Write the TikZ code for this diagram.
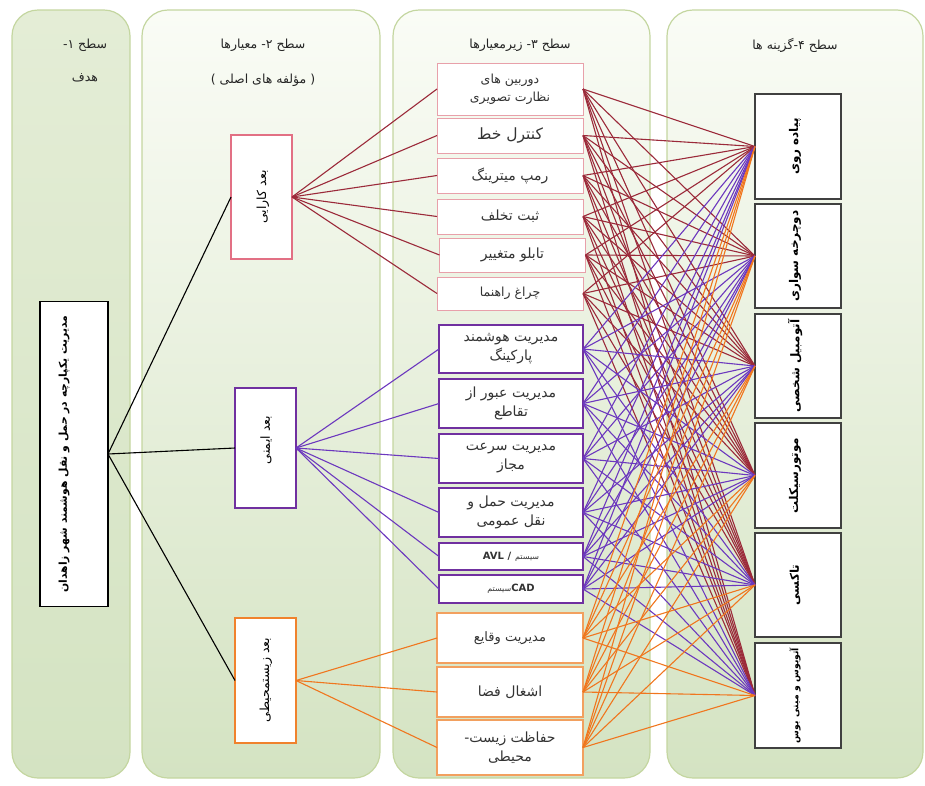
\documentclass[tikz,border=0pt]{standalone}
\usepackage{fontspec}
\setmainfont{DejaVu Sans}
\newfontfamily\fa[Script=Arabic]{DejaVu Sans}
\newfontfamily\plain{DejaVu Sans}
\TeXXeTstate=1
\newcommand\rl[1]{\beginR #1\endR}
\definecolor{panelborder}{RGB}{196,214,160}
\definecolor{paneltop}{RGB}{250,252,246}
\definecolor{panelbot}{RGB}{212,227,194}
\definecolor{panelonetop}{RGB}{228,237,214}
\definecolor{redline}{RGB}{155,42,58}
\definecolor{redbox}{RGB}{226,112,132}
\definecolor{redboxlight}{RGB}{232,160,170}
\definecolor{purpline}{RGB}{108,56,190}
\definecolor{purpbox}{RGB}{112,48,160}
\definecolor{orline}{RGB}{240,118,30}
\definecolor{orbox}{RGB}{240,130,45}
\definecolor{orboxlight}{RGB}{242,160,95}
\begin{document}
\begin{tikzpicture}[x=1pt,y=-1pt,
  panel/.style={draw=panelborder,line width=1.2pt,rounded corners=26pt,top color=paneltop,bottom color=panelbot},
  box/.style={draw,fill=white,inner sep=1pt,outer sep=0pt,align=center,font=\fa\fontsize{12.5}{18}\selectfont,text=black!80},
  big/.style={font=\fa\fontsize{14}{19}\selectfont},
  vtext/.style={rotate=90,font=\fa\bfseries\fontsize{12}{14}\selectfont},
  v2text/.style={rotate=90,font=\fa\fontsize{12.5}{14}\selectfont},
  hdr/.style={font=\fa\fontsize{12.5}{14}\selectfont,text=black!85},
  bx3r/.style={box,draw=redboxlight,line width=1pt,minimum width=146pt},
  bx3p/.style={box,draw=purpbox,line width=1.2pt,minimum width=144pt},
  bx3o/.style={box,draw=orboxlight,line width=1.2pt,minimum width=146pt},
  bx4/.style={box,draw=black!75,line width=1.6pt,minimum width=86pt,minimum height=105pt},
  goalline/.style={black,line width=1.1pt},
  rl3/.style={redline,line width=1.1pt},
  pl3/.style={purpline,line width=1.1pt},
  ol3/.style={orline,line width=1.1pt}
]
\useasboundingbox (0,0) rectangle (925,785);
% panels
\path[panel,top color=panelonetop] (12,10) rectangle (130,778);
\path[panel] (142,10) rectangle (380,778);
\path[panel] (393,10) rectangle (650,778);
\path[panel] (667,10) rectangle (923,778);
% headers
\node[hdr] (h1a) at (85,45) {\rl{سطح ۱-}};
\node[hdr] (h1b) at (85,78) {\rl{هدف}};
\node[hdr] (h2a) at (263,45) {\rl{سطح ۲- معیارها}};
\node[hdr] (h2b) at (263,80) {{\plain(} \rl{مؤلفه های اصلی} {\plain)}};
\node[hdr] (h3) at (520,45) {\rl{سطح ۳- زیرمعیارها}};
\node[hdr] (h4) at (795,45) {\rl{سطح ۴-گزینه ها}};
% goal
\node[box,draw=black,line width=1.6pt,minimum width=68pt,minimum height=305pt] (g) at (74,454) {};
\node[vtext,font=\fa\bfseries\fontsize{10.8}{13}\selectfont] (gt) at (64,454) {\rl{مدیریت یکپارچه در حمل و نقل هوشمند شهر زاهدان}};
% level 2
\node[box,draw=redbox,line width=1.2pt,minimum width=61pt,minimum height=124pt] (k2) at (261.5,197) {};
\node[v2text] (k2t) at (263,197) {\rl{بعد کارایی}};
\node[box,draw=purpbox,line width=1.4pt,minimum width=61pt,minimum height=120pt] (i2) at (265.5,448) {};
\node[v2text] (i2t) at (266,440) {\rl{بعد ایمنی}};
\node[box,draw=orbox,line width=1.4pt,minimum width=61pt,minimum height=125pt] (z2) at (265.5,680.5) {};
\node[v2text] (z2t) at (266,680) {\rl{بعد زیستمحیطی}};
% level 3
\node[bx3r,minimum height=52pt] (s1) at (510,89) {\rl{دوربین های}\\\rl{نظارت تصویری}};
\node[bx3r,minimum height=35pt,font=\fa\fontsize{15.5}{17}\selectfont] (s2) at (510,135.5) {\rl{کنترل خط}};
\node[bx3r,minimum height=35pt,big] (s3) at (510,175.5) {\rl{رمپ میترینگ}};
\node[bx3r,minimum height=35pt,big] (s4) at (510,216.5) {\rl{ثبت تخلف}};
\node[bx3r,minimum height=34pt,big] (s5) at (512.5,255) {\rl{تابلو متغییر}};
\node[bx3r,minimum height=33pt] (s6) at (510,293.5) {\rl{چراغ راهنما}};
\node[bx3p,minimum height=48pt,big] (s7) at (511,349) {\rl{مدیریت هوشمند}\\\rl{پارکینگ}};
\node[bx3p,minimum height=49pt,big] (s8) at (511,403.5) {\rl{مدیریت عبور از}\\\rl{تقاطع}};
\node[bx3p,minimum height=49pt,big] (s9) at (511,458.5) {\rl{مدیریت سرعت}\\\rl{مجاز}};
\node[bx3p,minimum height=49pt,big] (s10) at (511,512.5) {\rl{مدیریت حمل و}\\\rl{نقل عمومی}};
\node[bx3p,minimum height=27pt] (s11) at (511,556.5) {\textbf{\plain\fontsize{10}{11}\selectfont AVL /} {\fontsize{8}{9}\selectfont\rl{سیستم}}};
\node[bx3p,minimum height=28pt] (s12) at (511,589) {{\fontsize{8}{9}\selectfont\rl{سیستم}}\textbf{\plain\fontsize{10}{11}\selectfont CAD}};
\node[bx3o,minimum height=50pt,font=\fa\fontsize{13}{15}\selectfont] (s13) at (510,638) {\rl{مدیریت وقایع}};
\node[bx3o,minimum height=50pt,big] (s14) at (510,692) {\rl{اشغال فضا}};
\node[bx3o,minimum height=55pt,big] (s15) at (510,747.5) {\rl{حفاظت زیست-}\\\rl{محیطی}};
% level 4
\node[bx4] (A) at (798,146.5) {};
\node[bx4,minimum height=104pt] (B) at (798,256) {};
\node[bx4,minimum height=104pt] (C) at (798,366) {};
\node[bx4] (D) at (798,475.5) {};
\node[bx4,minimum height=104pt] (E) at (798,585) {};
\node[bx4] (F) at (798,695.5) {};
\node[vtext] (At) at (795,146.5) {\rl{پیاده روی}};
\node[vtext] (Bt) at (795,256) {\rl{دوچرخه سواری}};
\node[vtext] (Ct) at (795,366) {\rl{آتومبیل شخصی}};
\node[vtext] (Dt) at (795,475.5) {\rl{موتورسیکلت}};
\node[vtext] (Et) at (795,585) {\rl{تاکسی}};
\node[vtext,font=\fa\bfseries\fontsize{9.3}{11}\selectfont] (Ft) at (795,695.5) {\rl{آتوبوس و مینی بوس}};
% goal connectors
\draw[goalline] (g.east) -- (k2.west);
\draw[goalline] (g.east) -- (i2.west);
\draw[goalline] (g.east) -- (z2.west);
% level2 -> level3
\foreach \s in {s1,s2,s3,s4,s5,s6} \draw[rl3] (k2.east) -- (\s.west);
\foreach \s in {s7,s8,s9,s10,s11,s12} \draw[pl3] (i2.east) -- (\s.west);
\foreach \s in {s13,s14,s15} \draw[ol3] (z2.east) -- (\s.west);
% level3 -> level4
\foreach \s in {s1,s2,s3,s4,s5,s6} \foreach \t in {A,B,C,D,E,F} \draw[rl3] (\s.east) -- (\t.west);
\foreach \s in {s7,s8,s9,s10,s11,s12} \foreach \t in {A,B,C,D,E,F} \draw[pl3] (\s.east) -- (\t.west);
\foreach \s in {s13,s14,s15} \foreach \t in {A,B,C,D,E,F} \draw[ol3] (\s.east) -- (\t.west);
\end{tikzpicture}
\end{document}
